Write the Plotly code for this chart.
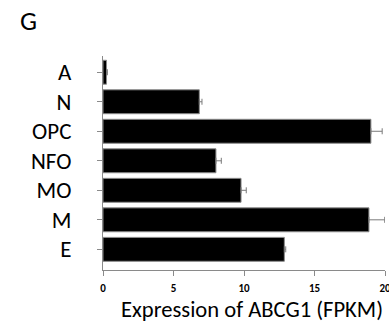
import plotly.graph_objects as go

categories = ["E", "M", "MO", "NFO", "OPC", "N", "A"]
values = [12.86, 18.86, 9.79, 8.01, 19.0, 6.83, 0.25]
errors = [0.1, 1.12, 0.37, 0.38, 0.8, 0.19, 0.06]
x_ticks = [0, 5, 10, 15, 20]

FONT = "Carlito, Lato, Open Sans, sans-serif"
W, H = 389, 336
L, R, T, B = 102.5, 4, 55.7, 66
PW, PH = W - L - R, H - T - B

fig = go.Figure(go.Bar(
    y=categories, x=values, orientation="h",
    marker=dict(color="#000000", line=dict(color="#8a8a8a", width=1)),
    error_x=dict(type="data", array=errors, arrayminus=[0] * len(errors),
                 color="#7a7a7a", thickness=1, width=3),
    width=0.81,
))

fig.update_layout(
    width=W, height=H,
    margin=dict(l=L, r=R, t=T, b=B, autoexpand=False),
    paper_bgcolor="white", plot_bgcolor="white",
    showlegend=False,
    font=dict(family=FONT, color="#000000"),
    annotations=[
        dict(text="G", xref="paper", yref="paper", x=(17 - L) / PW,
             y=1 + (T - 20) / PH, xanchor="left", yanchor="middle",
             showarrow=False, font=dict(size=27, family=FONT, color="#000")),
        dict(text="Expression of ABCG1 (FPKM)", xref="paper", yref="paper",
             x=(251.5 - L) / PW, y=-(309 - (T + PH)) / PH, xanchor="center", yanchor="middle",
             showarrow=False, font=dict(size=22.6, family=FONT, color="#000")),
    ],
)
fig.update_xaxes(
    range=[0, 20], tickvals=x_ticks, ticktext=[str(v) for v in x_ticks],
    showline=True, linecolor="#8a8a8a", linewidth=1,
    ticks="outside", ticklen=5, tickcolor="#8a8a8a", tickwidth=1,
    showgrid=False, zeroline=False, automargin=False,
    tickfont=dict(family=FONT, size=11, color="#000", weight="bold"),
    ticklabelstandoff=3, ticklabeloverflow="allow",
)
fig.update_yaxes(
    type="category", categoryorder="array", categoryarray=categories,
    range=[-0.7, 6.55], automargin=False,
    showline=True, linecolor="#8a8a8a", linewidth=1,
    ticks="outside", ticklen=5, tickcolor="#8a8a8a", tickwidth=1,
    showgrid=False, zeroline=False,
    tickfont=dict(size=23, family=FONT, color="#000"),
    ticklabelstandoff=21,
)

fig.write_html("out.html", config={"displayModeBar": False},
               post_script="document.body.style.margin='0';")
